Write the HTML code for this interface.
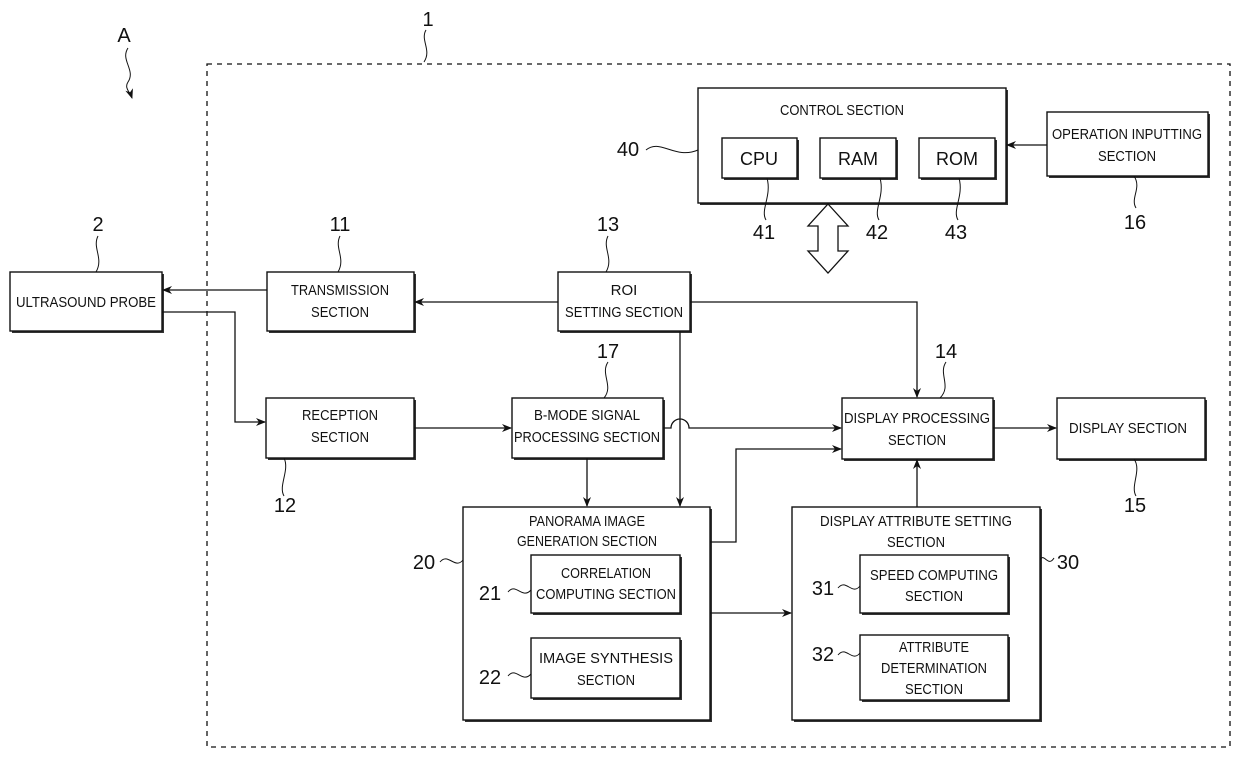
<!DOCTYPE html>
<html><head><meta charset="utf-8"><style>
html,body{margin:0;padding:0;background:#fff;}
svg{display:block;}
text{font-family:"Liberation Sans",sans-serif;fill:#111;}
.b{fill:#fff;stroke:#111;stroke-width:1.4;}
.l{fill:none;stroke:#111;stroke-width:1.3;}
.s{fill:none;stroke:#111;stroke-width:1;}
.t{font-size:15px;}
.n{font-size:20px;}
</style></head><body>
<svg width="1240" height="757" viewBox="0 0 1240 757" xmlns="http://www.w3.org/2000/svg">
<defs><marker id="a" markerWidth="10" markerHeight="8" refX="9" refY="4" orient="auto" markerUnits="userSpaceOnUse"><path d="M0,0 L10,4 L0,8 L3,4 z" fill="#111"/></marker></defs>
<rect x="207" y="64" width="1023" height="683" fill="none" stroke="#111" stroke-width="1.3" stroke-dasharray="5,5"/>
<g>
<rect x="12" y="274" width="152" height="59" fill="#333"/><rect class="b" x="10" y="272" width="152" height="59"/>
<rect x="269" y="274" width="147" height="59" fill="#333"/><rect class="b" x="267" y="272" width="147" height="59"/>
<rect x="560" y="274" width="132" height="59" fill="#333"/><rect class="b" x="558" y="272" width="132" height="59"/>
<rect x="700" y="90" width="308" height="115" fill="#333"/><rect class="b" x="698" y="88" width="308" height="115"/>
<rect x="724" y="140" width="75" height="40" fill="#333"/><rect class="b" x="722" y="138" width="75" height="40"/>
<rect x="822" y="140" width="76" height="40" fill="#333"/><rect class="b" x="820" y="138" width="76" height="40"/>
<rect x="921" y="140" width="76" height="40" fill="#333"/><rect class="b" x="919" y="138" width="76" height="40"/>
<rect x="1049" y="114" width="161" height="64" fill="#333"/><rect class="b" x="1047" y="112" width="161" height="64"/>
<rect x="268" y="400" width="148" height="60" fill="#333"/><rect class="b" x="266" y="398" width="148" height="60"/>
<rect x="514" y="400" width="151" height="60" fill="#333"/><rect class="b" x="512" y="398" width="151" height="60"/>
<rect x="844" y="400" width="151" height="61" fill="#333"/><rect class="b" x="842" y="398" width="151" height="61"/>
<rect x="1059" y="400" width="148" height="61" fill="#333"/><rect class="b" x="1057" y="398" width="148" height="61"/>
<rect x="465" y="509" width="247" height="213" fill="#333"/><rect class="b" x="463" y="507" width="247" height="213"/>
<rect x="533" y="557" width="149" height="58" fill="#333"/><rect class="b" x="531" y="555" width="149" height="58"/>
<rect x="533" y="640" width="149" height="60" fill="#333"/><rect class="b" x="531" y="638" width="149" height="60"/>
<rect x="794" y="509" width="248" height="213" fill="#333"/><rect class="b" x="792" y="507" width="248" height="213"/>
<rect x="862" y="557" width="148" height="58" fill="#333"/><rect class="b" x="860" y="555" width="148" height="58"/>
<rect x="862" y="637" width="148" height="65" fill="#333"/><rect class="b" x="860" y="635" width="148" height="65"/>
</g>
<g class="t" text-anchor="middle">
<text x="86" y="307" textLength="140" lengthAdjust="spacingAndGlyphs">ULTRASOUND PROBE</text>
<text x="340" y="295" textLength="98" lengthAdjust="spacingAndGlyphs">TRANSMISSION</text>
<text x="340" y="317" textLength="58" lengthAdjust="spacingAndGlyphs">SECTION</text>
<text x="624" y="295">ROI</text>
<text x="624" y="317" textLength="118" lengthAdjust="spacingAndGlyphs">SETTING SECTION</text>
<text x="842" y="115" textLength="124" lengthAdjust="spacingAndGlyphs">CONTROL SECTION</text>
<text x="759" y="165" style="font-size:18px">CPU</text>
<text x="858" y="165" style="font-size:18px">RAM</text>
<text x="957" y="165" style="font-size:18px">ROM</text>
<text x="1127" y="139" textLength="150" lengthAdjust="spacingAndGlyphs">OPERATION INPUTTING</text>
<text x="1127" y="161" textLength="58" lengthAdjust="spacingAndGlyphs">SECTION</text>
<text x="340" y="420" textLength="76" lengthAdjust="spacingAndGlyphs">RECEPTION</text>
<text x="340" y="442" textLength="58" lengthAdjust="spacingAndGlyphs">SECTION</text>
<text x="587" y="420" textLength="106" lengthAdjust="spacingAndGlyphs">B-MODE SIGNAL</text>
<text x="587" y="442" textLength="146" lengthAdjust="spacingAndGlyphs">PROCESSING SECTION</text>
<text x="917" y="423" textLength="146" lengthAdjust="spacingAndGlyphs">DISPLAY PROCESSING</text>
<text x="917" y="445" textLength="58" lengthAdjust="spacingAndGlyphs">SECTION</text>
<text x="1128" y="433" textLength="118" lengthAdjust="spacingAndGlyphs">DISPLAY SECTION</text>
<text x="587" y="526" textLength="116" lengthAdjust="spacingAndGlyphs">PANORAMA IMAGE</text>
<text x="587" y="546" textLength="140" lengthAdjust="spacingAndGlyphs">GENERATION SECTION</text>
<text x="606" y="578" textLength="90" lengthAdjust="spacingAndGlyphs">CORRELATION</text>
<text x="606" y="599" textLength="140" lengthAdjust="spacingAndGlyphs">COMPUTING SECTION</text>
<text x="606" y="663" textLength="134" lengthAdjust="spacingAndGlyphs">IMAGE SYNTHESIS</text>
<text x="606" y="685" textLength="58" lengthAdjust="spacingAndGlyphs">SECTION</text>
<text x="916" y="526" textLength="192" lengthAdjust="spacingAndGlyphs">DISPLAY ATTRIBUTE SETTING</text>
<text x="916" y="547" textLength="58" lengthAdjust="spacingAndGlyphs">SECTION</text>
<text x="934" y="580" textLength="128" lengthAdjust="spacingAndGlyphs">SPEED COMPUTING</text>
<text x="934" y="601" textLength="58" lengthAdjust="spacingAndGlyphs">SECTION</text>
<text x="934" y="652" textLength="70" lengthAdjust="spacingAndGlyphs">ATTRIBUTE</text>
<text x="934" y="673" textLength="106" lengthAdjust="spacingAndGlyphs">DETERMINATION</text>
<text x="934" y="694" textLength="58" lengthAdjust="spacingAndGlyphs">SECTION</text>
</g>
<g class="n" text-anchor="middle">
<text x="124" y="42">A</text>
<text x="428" y="26">1</text>
<text x="98" y="231">2</text>
<text x="340" y="231">11</text>
<text x="608" y="231">13</text>
<text x="608" y="358">17</text>
<text x="946" y="358">14</text>
<text x="285" y="512">12</text>
<text x="1135" y="512">15</text>
<text x="1135" y="229">16</text>
<text x="628" y="156">40</text>
<text x="764" y="239">41</text>
<text x="877" y="239">42</text>
<text x="956" y="239">43</text>
<text x="424" y="569">20</text>
<text x="490" y="600">21</text>
<text x="490" y="684">22</text>
<text x="1068" y="569">30</text>
<text x="823" y="595">31</text>
<text x="823" y="661">32</text>
</g>
<g class="s">
<path d="M128,48 C120,60 136,70 128,82 C124,88 130,92 132,98" marker-end="url(#a)"/>
<path d="M426,30 C420,40 432,50 424,62"/>
<path d="M98,236 C92,248 104,258 96,272"/>
<path d="M340,236 C334,248 346,258 338,272"/>
<path d="M608,236 C602,248 614,258 606,272"/>
<path d="M608,362 C600,374 614,386 604,398"/>
<path d="M946,362 C938,374 952,386 940,398"/>
<path d="M284,496 C278,486 290,470 284,458"/>
<path d="M1136,496 C1130,486 1142,470 1134,459"/>
<path d="M1136,208 C1130,198 1142,188 1134,176"/>
<path d="M646,150 C660,138 675,160 698,150"/>
<path d="M766,220 C760,210 772,196 767,178"/>
<path d="M879,220 C873,210 885,196 880,178"/>
<path d="M958,220 C952,210 964,196 959,178"/>
<path d="M440,562 C448,552 455,570 463,560"/>
<path d="M508,592 C516,582 522,600 531,590"/>
<path d="M508,676 C516,666 522,684 531,674"/>
<path d="M1040,560 C1044,552 1048,568 1054,558"/>
<path d="M838,588 C846,578 852,596 860,586"/>
<path d="M838,655 C846,645 852,663 860,653"/>
</g>
<g class="l">
<line x1="267" y1="290" x2="163" y2="290" marker-end="url(#a)"/>
<line x1="558" y1="302" x2="415" y2="302" marker-end="url(#a)"/>
<polyline points="162,312 235,312 235,422 265,422" marker-end="url(#a)"/>
<line x1="414" y1="428" x2="511" y2="428" marker-end="url(#a)"/>
<path d="M663,428 L671,428 A9,9 0 0 1 689,428 L841,428" marker-end="url(#a)"/>
<line x1="680" y1="331" x2="680" y2="506" marker-end="url(#a)"/>
<polyline points="690,302 917,302 917,397" marker-end="url(#a)"/>
<line x1="587" y1="458" x2="587" y2="506" marker-end="url(#a)"/>
<polyline points="710,542 736,542 736,449 841,449" marker-end="url(#a)"/>
<line x1="710" y1="613" x2="791" y2="613" marker-end="url(#a)"/>
<line x1="917" y1="507" x2="917" y2="460" marker-end="url(#a)"/>
<line x1="993" y1="428" x2="1056" y2="428" marker-end="url(#a)"/>
<line x1="1047" y1="145" x2="1007" y2="145" marker-end="url(#a)"/>
</g>
<path d="M828,204 L848,226 L838,226 L838,251 L848,251 L828,273 L808,251 L818,251 L818,226 L808,226 Z" fill="#fff" stroke="#111" stroke-width="1.3"/>
</svg>
</body></html>
